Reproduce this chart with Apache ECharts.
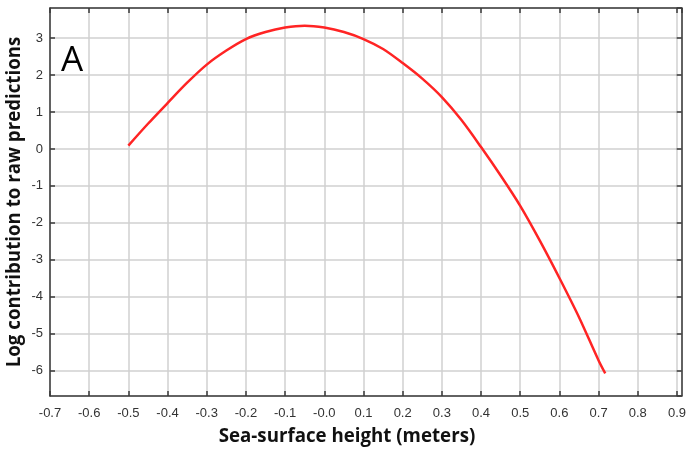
<!DOCTYPE html>
<html>
<head>
<meta charset="utf-8">
<script src="https://cdn.jsdelivr.net/npm/echarts@6/dist/echarts.min.js"></script>
<style>
html,body{margin:0;padding:0;background:#fff;}
#chart{width:689px;height:449px;}
</style>
</head>
<body>
<div id="chart"></div>
<script>
// Sea-surface height (m) and log contribution
var seaHeight = [-0.5, -0.45, -0.4, -0.35, -0.3, -0.25, -0.2, -0.15, -0.1, -0.05, 0.0, 0.05, 0.1, 0.15, 0.2, 0.25, 0.3, 0.35, 0.4, 0.45, 0.5, 0.55, 0.6, 0.65, 0.7, 0.717];
var logContribution = [0.09, 0.68, 1.24, 1.79, 2.28, 2.66, 2.97, 3.16, 3.28, 3.33, 3.28, 3.16, 2.97, 2.70, 2.32, 1.90, 1.40, 0.78, 0.05, -0.72, -1.54, -2.48, -3.49, -4.55, -5.72, -6.07];
var xTickLabels = ['-0.7','-0.6','-0.5','-0.4','-0.3','-0.2','-0.1','-0.0','0.1','0.2','0.3','0.4','0.5','0.6','0.7','0.8','0.9'];
var yTickLabels = ['-6','-5','-4','-3','-2','-1','0','1','2','3'];
var xTitle = 'Sea-surface height (meters)';
var yTitle = 'Log contribution to raw predictions';
var panelLabel = 'A';

var X_MIN = -0.7, X_MAX = 0.912, Y_MIN = -6.68, Y_MAX = 3.81;

var chart = echarts.init(document.getElementById('chart'), null, {renderer: 'canvas'});
var axisDark = '#3a3a3a';
var gridGray = '#d0d0d0';

function xFmt(v) {
  var idx = Math.round((v - X_MIN) * 10);
  if (Math.abs(v - (X_MIN + idx * 0.1)) > 1e-6) return '';
  return xTickLabels[idx] || '';
}
function yFmt(v) {
  var r = Math.round(v);
  if (Math.abs(v - r) > 1e-6) return '';
  return yTickLabels[r + 6] || '';
}

var data = seaHeight.map(function (x, i) { return [x, logContribution[i]]; });

chart.setOption({
  animation: false,
  backgroundColor: '#fff',
  grid: {left: 50, right: 5, top: 8, bottom: 53, containLabel: false},
  xAxis: [{
    type: 'value', min: X_MIN, max: X_MAX, interval: 0.1, position: 'bottom',
    axisLine: {show: true, onZero: false, lineStyle: {color: axisDark, width: 1.5}},
    axisTick: {show: true, inside: true, length: 5, lineStyle: {color: axisDark, width: 1.5}},
    axisLabel: {formatter: xFmt, color: '#333', fontFamily: 'Liberation Sans', fontSize: 13, margin: 11, showMinLabel: true, showMaxLabel: false},
    splitLine: {show: true, lineStyle: {color: gridGray, width: 1.5}}
  }, {
    type: 'value', min: X_MIN, max: X_MAX, interval: 0.1, position: 'top',
    axisLine: {show: true, onZero: false, lineStyle: {color: axisDark, width: 1.5}},
    axisTick: {show: true, inside: true, length: 5, lineStyle: {color: axisDark, width: 1.5}},
    axisLabel: {show: false},
    splitLine: {show: false}
  }],
  yAxis: [{
    type: 'value', min: Y_MIN, max: Y_MAX, minInterval: 1, maxInterval: 1, splitNumber: 10, position: 'left',
    axisLine: {show: true, onZero: false, lineStyle: {color: axisDark, width: 1.5}},
    axisTick: {show: true, inside: true, length: 5, lineStyle: {color: axisDark, width: 1.5}},
    axisLabel: {formatter: yFmt, color: '#333', fontFamily: 'Liberation Sans', fontSize: 13, margin: 7, showMinLabel: false, showMaxLabel: false},
    splitLine: {show: true, lineStyle: {color: gridGray, width: 1.5}}
  }, {
    type: 'value', min: Y_MIN, max: Y_MAX, minInterval: 1, maxInterval: 1, splitNumber: 10, position: 'right',
    axisLine: {show: true, onZero: false, lineStyle: {color: axisDark, width: 1.5}},
    axisTick: {show: true, inside: true, length: 5, lineStyle: {color: axisDark, width: 1.5}},
    axisLabel: {show: false},
    splitLine: {show: false}
  }],
  graphic: [{
    type: 'text', x: 347, y: 437,
    style: {text: xTitle, fill: '#111', font: 'bold 18.7px "Open Sans"', align: 'center', verticalAlign: 'middle'}
  }, {
    type: 'text', x: 15, y: 202, rotation: Math.PI / 2,
    style: {text: yTitle, fill: '#111', font: 'bold 18.7px "Open Sans"', align: 'center', verticalAlign: 'middle'}
  }, {
    type: 'text', x: 72, y: 61,
    style: {text: panelLabel, fill: '#000', font: '35px "Open Sans"', align: 'center', verticalAlign: 'middle'}
  }],
  series: [{
    type: 'line', xAxisIndex: 0, yAxisIndex: 0, data: data, smooth: 0.3, showSymbol: false,
    lineStyle: {color: '#ff2424', width: 2.5}
  }]
});
</script>
</body>
</html>
